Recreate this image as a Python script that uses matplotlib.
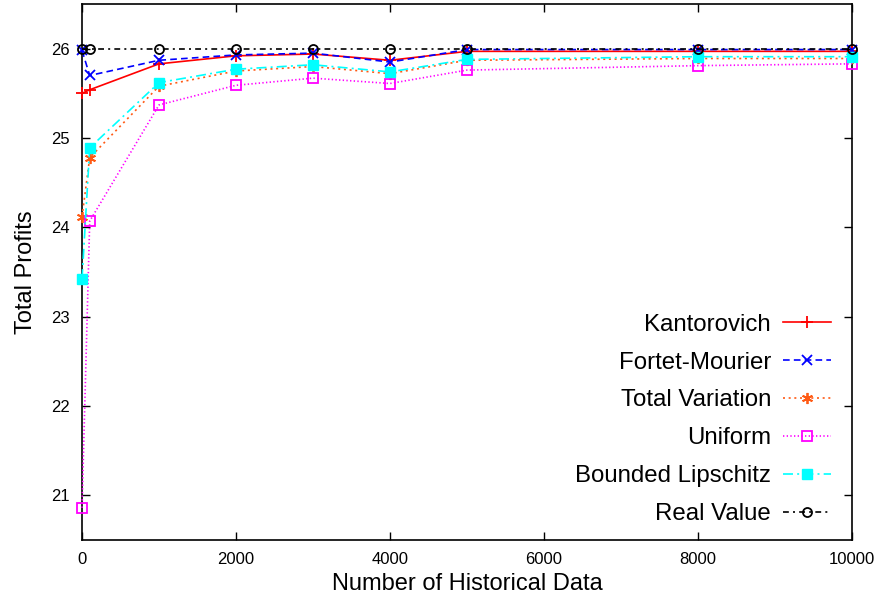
import matplotlib
matplotlib.use('Agg')
import matplotlib.pyplot as plt

# data
x_hist = [0, 100, 1000, 2000, 3000, 4000, 5000, 8000, 10000]
kantorovich = [25.50, 25.54, 25.83, 25.92, 25.94, 25.87, 25.97, 25.97, 25.97]
fortet_mourier = [25.98, 25.70, 25.87, 25.93, 25.95, 25.85, 25.99, 25.99, 25.99]
total_variation = [24.12, 24.78, 25.58, 25.75, 25.80, 25.72, 25.87, 25.89, 25.89]
uniform = [20.86, 24.07, 25.37, 25.59, 25.67, 25.61, 25.76, 25.81, 25.83]
bounded_lipschitz = [23.42, 24.89, 25.62, 25.77, 25.82, 25.74, 25.88, 25.91, 25.91]
real_value = [26.0, 26.0, 26.0, 26.0, 26.0, 26.0, 26.0, 26.0, 26.0]

plt.rcParams['font.family'] = ['Liberation Sans', 'DejaVu Sans']

fig = plt.figure(figsize=(8.81, 5.97), dpi=100)
ax = fig.add_axes([0.0931, 0.0955, 0.8739, 0.8978])

lw = 1.2
series = [
    ('Kantorovich', kantorovich, dict(color='#ff0000', ls='-', marker='+', ms=8, mew=1.3)),
    ('Fortet-Mourier', fortet_mourier, dict(color='#0000ff', ls=(0, (4, 2.5)), marker='x', ms=7, mew=1.3)),
    ('Total Variation', total_variation, dict(color='#ff5a14', ls=(0, (1.2, 2.2)), marker=(6, 2, 0), ms=8, mew=1.3)),
    ('Uniform', uniform, dict(color='#ff00ff', ls=(0, (0.8, 1.4)), marker='s', ms=7, mfc='none', mew=1.3)),
    ('Bounded Lipschitz', bounded_lipschitz, dict(color='#00ffff', ls=(0, (6, 2.5, 1.2, 2.5)), marker='s', ms=6.5, mew=1.0)),
    ('Real Value', real_value, dict(color='#000000', ls=(0, (3.5, 2.5, 1.2, 2.5)), marker='o', ms=6.5, mfc='none', mew=1.3)),
]

for name, vals, style in series:
    ax.plot(x_hist, vals, label=name, lw=lw, clip_on=False, zorder=3, **style)

ax.set_xlim(0, 10000)
ax.set_ylim(20.5, 26.5)
ax.set_xticks([0, 2000, 4000, 6000, 8000, 10000])
ax.set_yticks([21, 22, 23, 24, 25, 26])
ax.tick_params(direction='in', length=6, width=1, top=True, right=True,
               labelsize=12, pad=9)
for sp in ax.spines.values():
    sp.set_linewidth(1.2)

ax.set_xlabel('Number of Historical Data', fontsize=17, labelpad=4)
ax.set_ylabel('Total Profits', fontsize=17, labelpad=10)

leg = ax.legend(loc='lower right', bbox_to_anchor=(0.973, 0.028), frameon=False,
                markerfirst=False, fontsize=17.3, handlelength=2.0,
                handletextpad=0.5, labelspacing=0.66, borderpad=0,
                borderaxespad=0, numpoints=1)

fig.savefig('out.png', dpi=100)
